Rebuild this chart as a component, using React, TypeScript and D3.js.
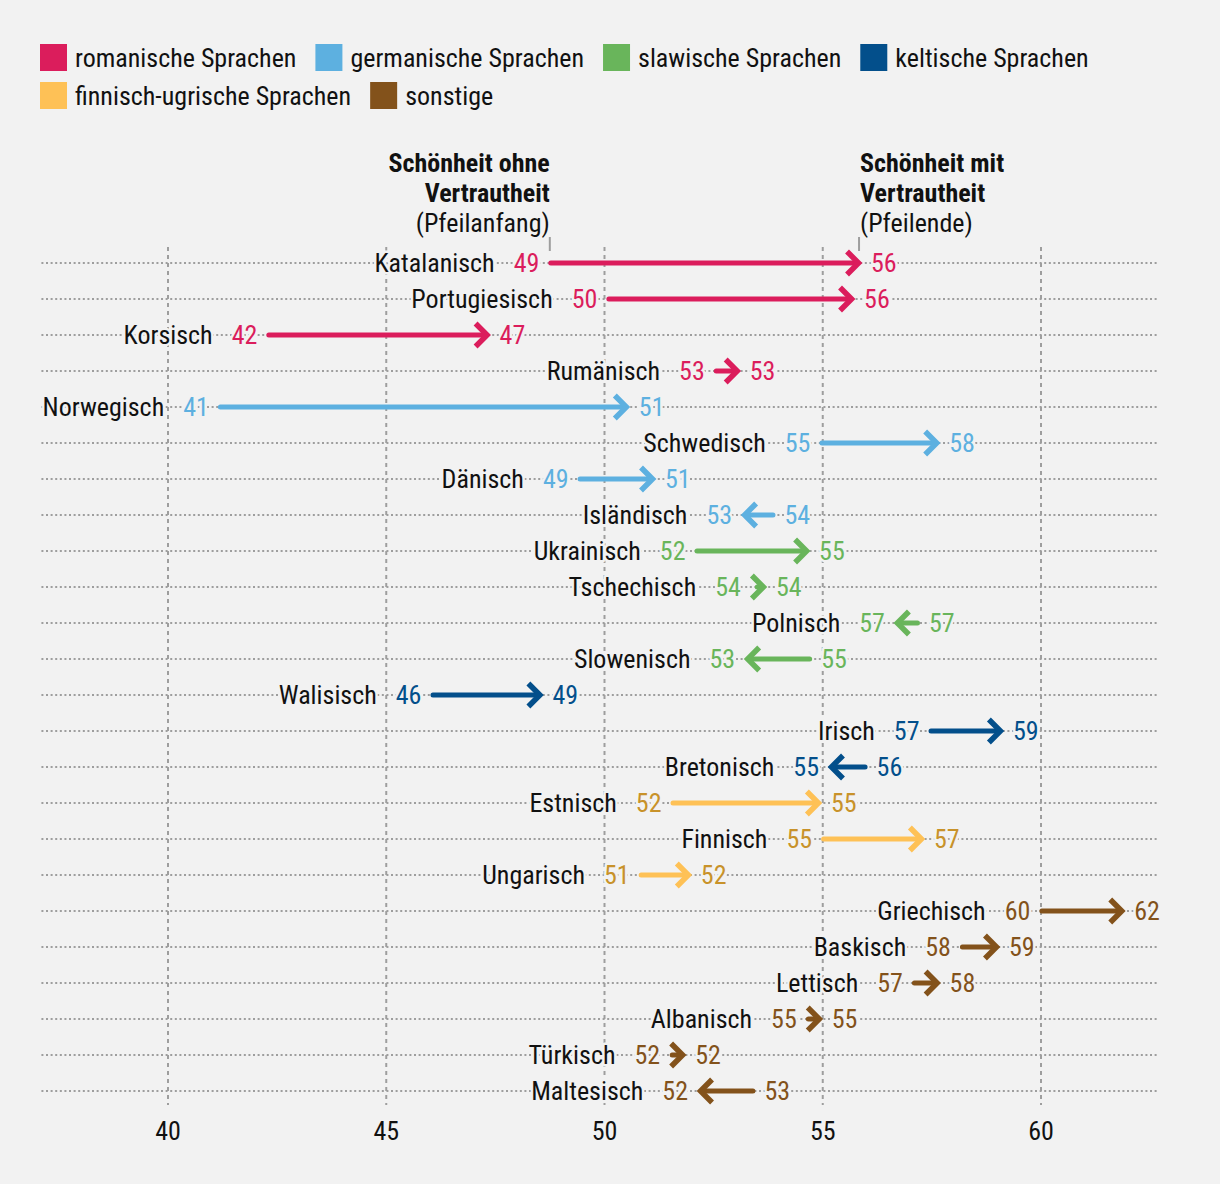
import React, { useEffect, useRef } from 'react';
import * as d3 from 'd3';

const languages = [
  'Katalanisch', 'Portugiesisch', 'Korsisch', 'Rumänisch',
  'Norwegisch', 'Schwedisch', 'Dänisch', 'Isländisch',
  'Ukrainisch', 'Tschechisch', 'Polnisch', 'Slowenisch',
  'Walisisch', 'Irisch', 'Bretonisch',
  'Estnisch', 'Finnisch', 'Ungarisch',
  'Griechisch', 'Baskisch', 'Lettisch', 'Albanisch', 'Türkisch', 'Maltesisch'
];

// index into familyNames for each language
const languageFamily = [0, 0, 0, 0, 1, 1, 1, 1, 2, 2, 2, 2, 3, 3, 3, 4, 4, 4, 5, 5, 5, 5, 5, 5];

// beauty without familiarity (arrow start)
const startValues = [
  48.77, 50.1, 42.31, 52.56,
  41.2, 54.98, 49.44, 53.86,
  52.12, 53.5, 57.17, 54.7,
  46.07, 57.48, 55.97,
  51.57, 55.02, 50.84,
  60.02, 58.2, 57.1, 54.67, 51.55, 53.4
];

// beauty with familiarity (arrow end)
const endValues = [
  55.9, 55.74, 47.39, 53.12,
  50.58, 57.69, 51.18, 53.13,
  54.71, 53.72, 56.63, 53.2,
  48.6, 59.15, 55.12,
  54.98, 57.34, 52.0,
  61.93, 59.06, 57.7, 55.0, 51.87, 52.12
];

const familyNames = [
  'romanische Sprachen', 'germanische Sprachen', 'slawische Sprachen',
  'keltische Sprachen', 'finnisch-ugrische Sprachen', 'sonstige'
];
const familyColors = ['#db1d5c', '#5db0e0', '#69b55b', '#034f8b', '#fec156', '#83521b'];
const labelColors = ['#db1d5c', '#5db0e0', '#69b55b', '#034f8b', '#c8922a', '#83521b'];

const xTicks = [40, 45, 50, 55, 60];

const FONT = '"Roboto Condensed", Roboto, sans-serif';
const FS = 26;
const BG = '#f2f2f2';
const INK = '#111111';
const GRID = '#9e9e9e';

const App: React.FC = () => {
  const svgRef = useRef<SVGSVGElement>(null);

  useEffect(() => {
    const width = 1220;
    const height = 1184;
    const svg = d3.select(svgRef.current);
    svg.selectAll('*').remove();
    svg.attr('width', width).attr('height', height)
      .style('font-family', FONT)
      .style('font-stretch', 'condensed');

    svg.append('rect').attr('width', width).attr('height', height).attr('fill', BG);

    const x = d3.scaleLinear().domain([40, 60]).range([168, 1041]);
    const y = d3.scalePoint<string>().domain(languages).range([263, 1091]);

    // Legend
    const legendRows = [[0, 1, 2, 3], [4, 5]];
    legendRows.forEach((row, ri) => {
      let cx = 40;
      const top = 44 + ri * 38;
      row.forEach(fi => {
        svg.append('rect')
          .attr('x', cx).attr('y', top)
          .attr('width', 27).attr('height', 27)
          .attr('fill', familyColors[fi]);
        const t = svg.append('text')
          .attr('x', cx + 35).attr('y', top + 13.5)
          .attr('dy', '0.36em')
          .attr('font-size', FS)
          .attr('fill', INK)
          .text(familyNames[fi]);
        const w = (t.node() as SVGTextElement).getComputedTextLength();
        cx = cx + 35 + w + 19;
      });
    });

    const gridLeft = x(37.1);
    const gridRight = x(62.65);

    // horizontal dotted lines
    svg.append('g')
      .selectAll('line')
      .data(languages)
      .join('line')
      .attr('x1', gridLeft).attr('x2', gridRight)
      .attr('y1', d => y(d)!).attr('y2', d => y(d)!)
      .attr('stroke', GRID)
      .attr('stroke-width', 2)
      .attr('stroke-dasharray', '2,2.6');

    // vertical dashed lines
    svg.append('g')
      .selectAll('line')
      .data(xTicks)
      .join('line')
      .attr('x1', d => x(d)).attr('x2', d => x(d))
      .attr('y1', 247).attr('y2', 1105)
      .attr('stroke', GRID)
      .attr('stroke-width', 2)
      .attr('stroke-dasharray', '4,4');

    // axis labels
    svg.append('g')
      .selectAll('text')
      .data(xTicks)
      .join('text')
      .attr('x', d => x(d))
      .attr('y', 1131)
      .attr('dy', '0.36em')
      .attr('text-anchor', 'middle')
      .attr('font-size', FS)
      .attr('fill', INK)
      .text(d => String(d));

    // annotations
    const ax0 = x(startValues[0]) - 1;
    const ax1 = x(endValues[0]) - 3;
    const leftAnno = [['Schönheit ohne', 700], ['Vertrautheit', 700], ['(Pfeilanfang)', 400]];
    const rightAnno = [['Schönheit mit', 700], ['Vertrautheit', 700], ['(Pfeilende)', 400]];
    leftAnno.forEach(([txt, wt], i) => {
      svg.append('text')
        .attr('x', ax0).attr('y', 163 + i * 30)
        .attr('dy', '0.36em')
        .attr('text-anchor', 'end')
        .attr('font-size', FS)
        .attr('font-weight', wt as number)
        .attr('fill', INK)
        .text(txt as string);
    });
    rightAnno.forEach(([txt, wt], i) => {
      svg.append('text')
        .attr('x', ax1 + 1).attr('y', 163 + i * 30)
        .attr('dy', '0.36em')
        .attr('text-anchor', 'start')
        .attr('font-size', FS)
        .attr('font-weight', wt as number)
        .attr('fill', INK)
        .text(txt as string);
    });
    [ax0, ax1].forEach(px => {
      svg.append('line')
        .attr('x1', px).attr('x2', px)
        .attr('y1', 237).attr('y2', 251)
        .attr('stroke', GRID)
        .attr('stroke-width', 2);
    });

    // arrows and labels
    const rows = svg.append('g');
    languages.forEach((lang, i) => {
      const cy = y(lang)!;
      const fam = languageFamily[i];
      const col = familyColors[fam];
      const lcol = labelColors[fam];
      const xs = x(startValues[i]);
      const xe = x(endValues[i]);
      const dir = xe >= xs ? 1 : -1;
      const arm = 11.5;
      const tip = xe - dir * 3.5;
      const g = rows.append('g');

      g.append('line')
        .attr('x1', xs).attr('x2', tip - dir * 2)
        .attr('y1', cy).attr('y2', cy)
        .attr('stroke', col)
        .attr('stroke-width', 5)
        .attr('stroke-linecap', 'round');

      g.append('path')
        .attr('d', `M${tip - dir * arm},${cy - arm}L${tip},${cy}L${tip - dir * arm},${cy + arm}`)
        .attr('fill', 'none')
        .attr('stroke', col)
        .attr('stroke-width', 5.5)
        .attr('stroke-linejoin', 'miter')
        .attr('stroke-linecap', 'butt');

      const pts = [xs - 2.5, xs + 2.5, xe, tip - dir * (arm + 2)];
      const leftEdge = d3.min(pts)!;
      const rightEdge = d3.max(pts)!;
      const leftVal = dir > 0 ? startValues[i] : endValues[i];
      const rightVal = dir > 0 ? endValues[i] : startValues[i];

      const halo = (sel: d3.Selection<SVGTextElement, unknown, null, undefined>) =>
        sel.attr('stroke', BG)
          .attr('stroke-width', 5)
          .attr('stroke-linejoin', 'round')
          .style('paint-order', 'stroke');

      const ln = g.append('text')
        .attr('x', leftEdge - 9).attr('y', cy)
        .attr('dy', '0.36em')
        .attr('text-anchor', 'end')
        .attr('font-size', FS)
        .attr('fill', lcol)
        .text(String(Math.round(leftVal)))
        .call(halo);

      g.append('text')
        .attr('x', rightEdge + 9).attr('y', cy)
        .attr('dy', '0.36em')
        .attr('text-anchor', 'start')
        .attr('font-size', FS)
        .attr('fill', lcol)
        .text(String(Math.round(rightVal)))
        .call(halo);

      const nw = (ln.node() as SVGTextElement).getComputedTextLength();
      g.append('text')
        .attr('x', leftEdge - 9 - nw - 19).attr('y', cy)
        .attr('dy', '0.36em')
        .attr('text-anchor', 'end')
        .attr('font-size', FS)
        .attr('fill', INK)
        .text(lang)
        .call(halo);
    });
  }, []);

  return (
    <div style={{ position: 'absolute', left: 0, top: 0, background: BG }}>
      <svg ref={svgRef} style={{ display: 'block' }}></svg>
    </div>
  );
};

export default App;
